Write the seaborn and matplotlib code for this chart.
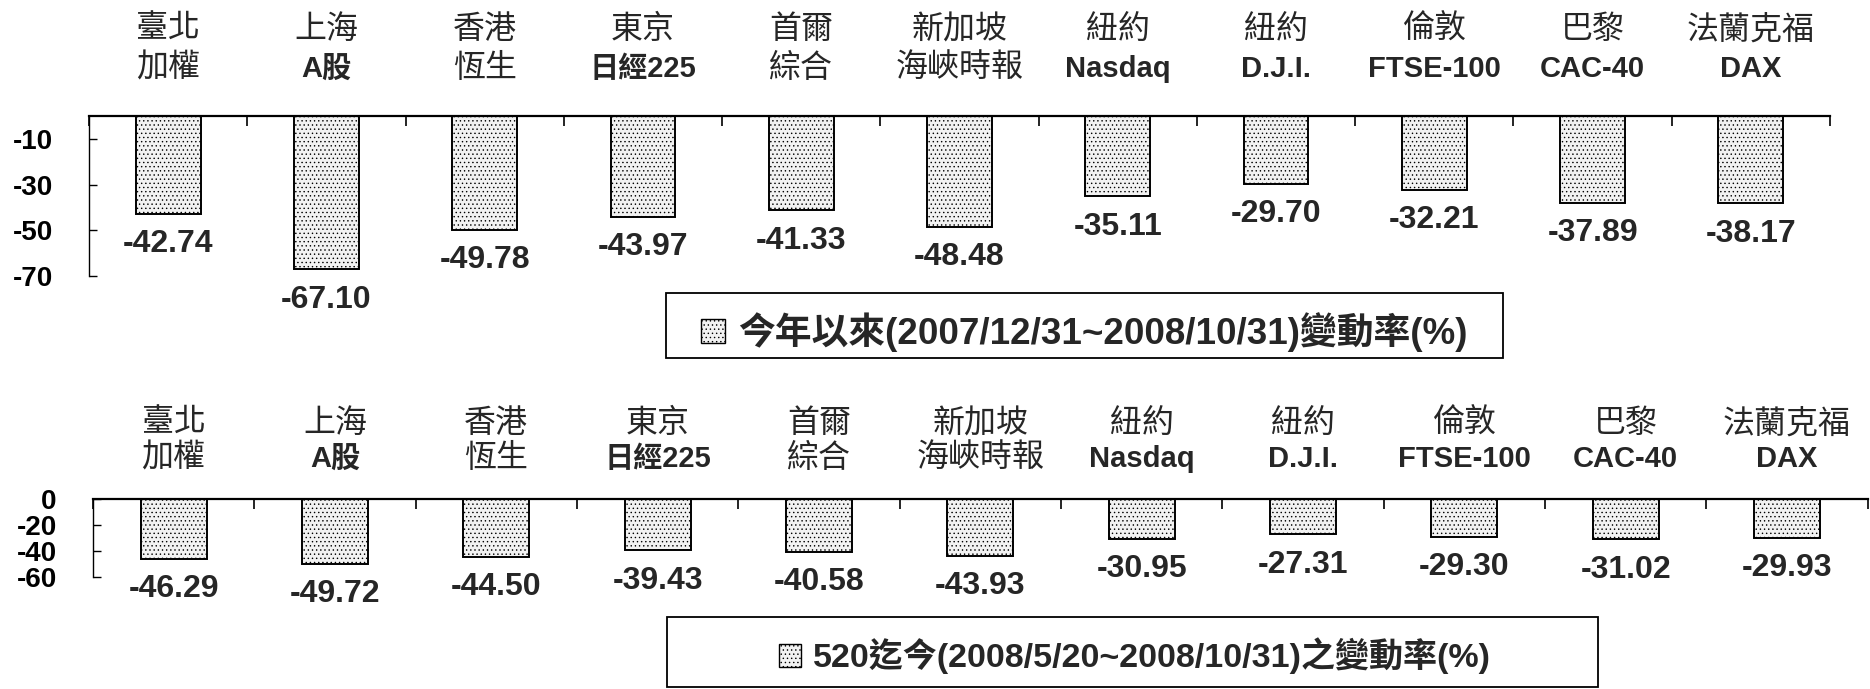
import matplotlib
matplotlib.use('Agg')
import matplotlib.pyplot as plt
import seaborn as sns
import numpy as np
from matplotlib.patches import Patch, Rectangle

# index names, two lines each
names_line1 = ['臺北', '上海', '香港', '東京', '首爾', '新加坡', '紐約', '紐約', '倫敦', '巴黎', '法蘭克福']
names_line2 = ['加權', 'A股', '恆生', '日經225', '綜合', '海峽時報', 'Nasdaq', 'D.J.I.', 'FTSE-100', 'CAC-40', 'DAX']

# change rates (%)
ytd_change = [-42.74, -67.10, -49.78, -43.97, -41.33, -48.48, -35.11, -29.70, -32.21, -37.89, -38.17]
since_520_change = [-46.29, -49.72, -44.50, -39.43, -40.58, -43.93, -30.95, -27.31, -29.30, -31.02, -29.93]

ytd_label = '今年以來(2007/12/31~2008/10/31)變動率(%)'
since_520_label = '520迄今(2008/5/20~2008/10/31)之變動率(%)'

ytd_ticks = [-10, -30, -50, -70]
since_520_ticks = [0, -20, -40, -60]

sns.set_theme(style='white')
plt.rcParams['font.family'] = ['Liberation Sans', 'Noto Sans CJK TC']
plt.rcParams['hatch.linewidth'] = 0.5

BAR_FACE = '#f2f2f2'
HATCH = '....'


def draw_panel(ax, values, ticks, ymin, offs):
    keys = [a + '\n' + b for a, b in zip(names_line1, names_line2)]
    sns.barplot(x=keys, y=values, ax=ax, color=BAR_FACE, saturation=1, width=0.41,
                edgecolor='black', linewidth=1.4, hatch=HATCH, errorbar=None)
    ax.set_ylim(ymin, 0)
    ax.set_yticks(ticks)
    ax.set_yticklabels([str(t) for t in ticks], fontsize=20, fontweight='bold')
    ax.tick_params(axis='y', direction='in', length=6, width=1, pad=26, colors='black', left=True)
    ax.set_xlim(-0.5, len(keys) - 0.5)
    ax.set_xticks(range(len(keys)))
    ax.tick_params(axis='x', which='major', length=0, labelbottom=False, labeltop=False)
    ax.set_xticks(np.arange(-0.5, len(keys), 1), minor=True)
    ax.tick_params(axis='x', which='minor', top=True, bottom=False, direction='in',
                   length=7, width=1.2, color='black')
    ax.set_xlabel('')
    ax.set_ylabel('')
    for s in ['bottom', 'right']:
        ax.spines[s].set_visible(False)
    ax.spines['top'].set_linewidth(1.6)
    ax.spines['top'].set_color('black')
    ax.spines['left'].set_linewidth(1.0)
    ax.spines['left'].set_color('black')

    # value labels under each bar
    for c in ax.containers:
        ax.bar_label(c, fmt='%.2f', padding=11, fontsize=23, fontweight='bold')

    # two-line category labels above the axis
    for i, (a, b) in enumerate(zip(names_line1, names_line2)):
        ax.annotate(a, xy=(i, 1), xycoords=('data', 'axes fraction'), xytext=(0, offs[0]),
                    textcoords='offset points', ha='center', va='center', fontsize=23)
        w = 'bold' if any(ch.isascii() for ch in b) else 'normal'
        fs = 21 if w == 'bold' else 23
        ax.annotate(b, xy=(i, 1), xycoords=('data', 'axes fraction'), xytext=(0, offs[1]),
                    textcoords='offset points', ha='center', va='center', fontsize=fs,
                    fontweight=w)


def add_legend(fig, ax, text, size, center, box):
    handle = Patch(facecolor=BAR_FACE, edgecolor='black', hatch=HATCH, linewidth=1)
    ax.legend(handles=[handle], labels=[text], loc='center', bbox_to_anchor=center,
              bbox_transform=fig.transFigure, frameon=False, handlelength=0.65,
              handleheight=0.65, handletextpad=0.35, borderpad=0,
              prop=dict(size=size, weight='bold'))
    fig.add_artist(Rectangle(box[:2], box[2], box[3], transform=fig.transFigure,
                             fill=False, edgecolor='black', linewidth=1.3))


fig = plt.figure(figsize=(18.7, 6.89), dpi=100)
ax_top = fig.add_axes([0.0476, 0.5994, 0.931, 0.2322])
ax_bot = fig.add_axes([0.0497, 0.1626, 0.949, 0.1132])

draw_panel(ax_top, ytd_change, ytd_ticks, -70, (62, 34))
draw_panel(ax_bot, since_520_change, since_520_ticks, -60, (54, 29))

add_legend(fig, ax_top, ytd_label, 26.5, (0.580, 0.518), (0.356, 0.4804, 0.448, 0.0943))
add_legend(fig, ax_bot, since_520_label, 24.5, (0.607, 0.048), (0.3567, 0.003, 0.498, 0.1016))

fig.savefig('out.png', dpi=100, facecolor='white')
